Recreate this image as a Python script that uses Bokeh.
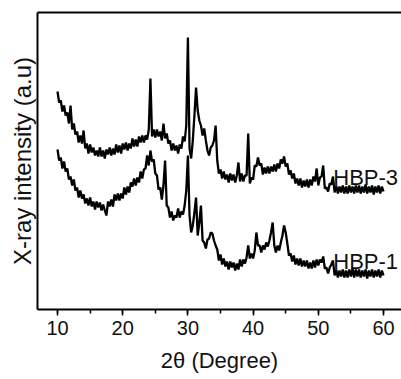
import numpy as np
from bokeh.plotting import figure
from bokeh.models import Range1d, LinearAxis, SingleIntervalTicker, FixedTicker, ColumnDataSource
from bokeh.core.properties import value
from bokeh.embed import file_html
from bokeh.resources import INLINE

# 2-theta scan grid (degrees), step 0.25
two_theta = np.linspace(10, 60, 201)

# HBP-3 intensity (a.u.)
hbp3 = [
    218, 207, 209, 198, 204, 194, 197, 186, 204, 180,
    186, 175, 178, 167, 174, 166, 179, 161, 166, 156,
    165, 157, 162, 154, 159, 153, 162, 153, 159, 151,
    160, 155, 162, 154, 161, 155, 165, 157, 164, 156,
    166, 160, 167, 159, 166, 161, 171, 163, 170, 163,
    173, 167, 174, 167, 174, 170, 180, 231, 173, 180,
    172, 180, 173, 178, 169, 186, 171, 176, 166, 169,
    159, 166, 159, 164, 156, 165, 161, 173, 168, 184,
    272, 161, 151, 169, 194, 222, 199, 189, 184, 174,
    181, 169, 159, 154, 162, 164, 169, 184, 149, 136,
    140, 131, 138, 130, 135, 127, 136, 129, 135, 127,
    134, 147, 128, 136, 128, 134, 134, 176, 126, 132,
    130, 144, 143, 152, 144, 146, 135, 142, 136, 143,
    136, 143, 138, 145, 138, 146, 141, 150, 146, 153,
    143, 146, 135, 139, 131, 136, 126, 131, 124, 131,
    122, 129, 123, 130, 122, 130, 124, 133, 128, 141,
    124, 132, 133, 144, 121, 122, 118, 126, 125, 133,
    117, 124, 116, 123, 117, 124, 116, 123, 116, 124,
    117, 123, 116, 124, 117, 124, 116, 123, 117, 125,
    116, 123, 117, 124, 115, 123, 117, 124, 116, 123, 118,
]

# HBP-1 intensity (a.u.)
hbp1 = [
    160, 149, 152, 141, 148, 138, 141, 130, 133, 124,
    130, 119, 122, 112, 119, 111, 115, 106, 111, 104,
    112, 103, 108, 100, 108, 102, 107, 99, 105, 99,
    94, 108, 103, 110, 103, 115, 109, 116, 109, 116,
    111, 122, 115, 123, 117, 127, 123, 131, 124, 132,
    127, 138, 131, 140, 141, 154, 144, 159, 148, 150,
    136, 134, 120, 122, 110, 124, 149, 104, 102, 92,
    98, 89, 94, 92, 101, 92, 98, 95, 104, 119,
    154, 94, 77, 84, 97, 112, 74, 87, 104, 69,
    67, 61, 70, 71, 77, 76, 69, 64, 60, 49,
    55, 45, 51, 43, 48, 40, 48, 42, 47, 39,
    46, 40, 50, 43, 50, 46, 52, 64, 51, 56,
    51, 59, 77, 64, 64, 57, 64, 60, 67, 63,
    69, 77, 87, 64, 57, 64, 59, 67, 74, 84,
    77, 66, 54, 56, 48, 54, 45, 51, 44, 51,
    43, 49, 43, 49, 41, 47, 41, 49, 42, 50,
    44, 50, 47, 53, 41, 42, 36, 42, 45, 49,
    34, 40, 32, 39, 33, 40, 32, 39, 32, 40,
    33, 41, 32, 40, 33, 40, 32, 39, 33, 40,
    31, 39, 33, 40, 32, 39, 33, 40, 32, 39, 34,
]

series_names = ["HBP-3", "HBP-1"]
label_x = [52.3, 52.3]
label_y = [132, 48]

FONT = "Liberation Sans"

p = figure(width=401, height=379, output_backend="svg", toolbar_location=None,
           x_range=Range1d(6.93, 62.76), y_range=Range1d(0, 297),
           min_border_left=37, min_border_right=0, min_border_top=12,
           min_border_bottom=70)
p.outline_line_color = None
p.grid.visible = False
p.background_fill_color = "white"
p.border_fill_color = "white"

p.line(two_theta, hbp3, line_color="black", line_width=2.3)
p.line(two_theta, hbp1, line_color="black", line_width=2.3)

src = ColumnDataSource(dict(x=label_x, y=label_y, t=series_names))
p.text(x="x", y="y", text="t", source=src, text_font=value(FONT),
       text_font_size="22px", text_color="#111111", text_baseline="alphabetic")

xa = p.xaxis[0]
xa.ticker = SingleIntervalTicker(interval=10, num_minor_ticks=2)
xa.axis_line_width = 2
xa.major_tick_in = 0
xa.major_tick_out = 6
xa.minor_tick_in = 0
xa.minor_tick_out = 4
xa.major_tick_line_width = 1.5
xa.minor_tick_line_width = 1.5
xa.major_label_text_font = FONT
xa.major_label_text_font_size = "20px"
xa.major_label_text_color = "#111111"
xa.major_label_standoff = 5
xa.axis_label = "2θ (Degree)"
xa.axis_label_text_font = FONT
xa.axis_label_text_font_size = "22px"
xa.axis_label_text_font_style = "normal"
xa.axis_label_text_color = "#111111"
xa.axis_label_standoff = 10

ya = p.yaxis[0]
ya.ticker = FixedTicker(ticks=[])
ya.axis_line_width = 2
ya.major_tick_in = 0
ya.major_tick_out = 0
ya.minor_tick_in = 0
ya.minor_tick_out = 0
ya.major_label_standoff = 0
ya.axis_label = "X-ray intensity (a.u)"
ya.axis_label_text_font = FONT
ya.axis_label_text_font_size = "24px"
ya.axis_label_text_font_style = "normal"
ya.axis_label_text_color = "#111111"
ya.axis_label_standoff = 2

top = LinearAxis(ticker=FixedTicker(ticks=[]), axis_line_width=2,
                 major_tick_in=0, major_tick_out=0, minor_tick_in=0,
                 minor_tick_out=0, major_label_standoff=0)
p.add_layout(top, "above")

open("out.html", "w").write(file_html(p, INLINE))
